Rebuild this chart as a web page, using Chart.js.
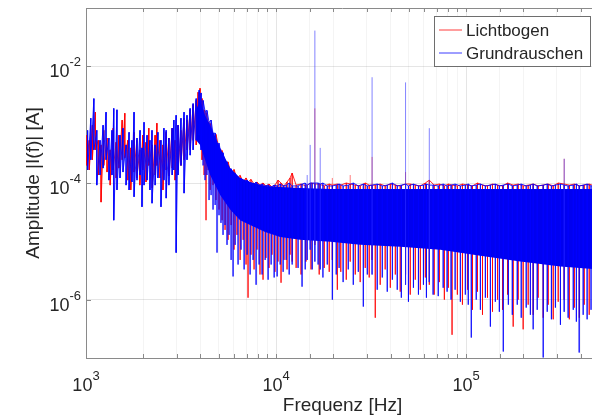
<!DOCTYPE html>
<html>
<head>
<meta charset="utf-8">
<script src="https://cdn.jsdelivr.net/npm/chart.js@4/dist/chart.umd.min.js"></script>
<style>
  html, body { margin: 0; padding: 0; overflow: hidden; background: #fff; }
</style>
</head>
<body>
<canvas id="chart" width="600" height="419"></canvas>
<script>
const FONT = "'Liberation Sans', Arial, sans-serif";
const TEXT = '#262626';
const AXIS = '#8a8a8a';

// Lichtbogen: at each frequency the trace swings from a top value to a bottom value
const lichtFreq = [
  1000, 1040, 1080, 1120, 1160, 1200, 1240, 1290, 1340, 1390,
  1440, 1490, 1550, 1600, 1660, 1720, 1790, 1850, 1920, 1990,
  2070, 2140, 2230, 2310, 2360, 2450, 2540, 2640, 2730, 2840,
  2940, 3050, 3160, 3280, 3400, 3530, 3660, 3800, 3890, 3980,
  4080, 4180, 4280, 4390, 4500, 4660, 4830, 5010, 5200, 5390,
  5590, 5800, 6010, 6230, 6470, 6710, 6950, 7120, 7380, 7660,
  7940, 8230, 8540, 8850, 9180, 9520, 9870, 10240, 10620, 11010,
  11420, 11850, 12150,
  12750, 13530, 14370, 15270, 16000, 16860, 17920, 19040, 19770, 21000,
  21900, 23400, 24550, 26100, 27700, 29450, 30900, 32000, 33250, 35300,
  37500, 39900, 42400, 45000, 48000, 50800, 54000, 57400, 61000, 64000,
  67900, 72300, 76800, 80600, 84300, 89900, 95600, 101700, 108000, 114700,
  121900, 129500, 137600, 146300, 155400, 165100, 176800, 187800, 199500, 212000,
  225200, 239300, 254300, 270200, 287100, 305000, 328000, 349000, 371000, 394000,
  418000, 444000, 472000, 500000
];
const lichtTop = [
  6.6e-4, 5.4e-4, 9.8e-4, 1.64e-3, 5.4e-4, 4.5e-4, 8.0e-4, 5.9e-4, 3.7e-4, 8.7e-4,
  5.0e-4, 6.6e-4, 1.2e-3, 1.57e-3, 5.4e-4, 4.0e-4, 7.4e-4, 5.4e-4, 3.7e-4, 6.6e-4,
  5.0e-4, 8.7e-4, 4.5e-4, 6.6e-4, 1.06e-3, 5.4e-4, 4.5e-4, 7.4e-4, 5.9e-4, 8.7e-4,
  5.4e-4, 9.8e-4, 8.0e-4, 1.29e-3, 1.2e-3, 1.8e-3, 2.2e-3, 2.6e-3, 3.6e-3, 4.2e-3,
  2.8e-3, 1.8e-3, 1.6e-3, 1.1e-3, 1.05e-3, 6.5e-4, 6.8e-4, 3.9e-4, 3.6e-4, 2.2e-4,
  2.3e-4, 1.45e-4, 1.7e-4, 1.2e-4, 1.35e-4, 1.05e-4, 1.22e-4, 1.04e-4, 1.15e-4, 9.6e-5,
  1.04e-4, 9.2e-5, 1.0e-4, 8.9e-5, 9.6e-5, 8.5e-5, 9.2e-5, 1.12e-4, 1.0e-4, 8.9e-5,
  1.04e-4, 1.22e-4, 1.48e-4,
  9.2e-5, 9.6e-5, 8.9e-5, 1.0e-4, 9.6e-5, 9.6e-5, 8.9e-5, 9.6e-5, 9.2e-5, 9.6e-5,
  9.2e-5, 1.0e-4, 9.6e-5, 9.2e-5, 8.9e-5, 1.0e-4, 9.2e-5, 9.2e-5, 9.2e-5, 9.6e-5,
  8.9e-5, 9.6e-5, 9.2e-5, 8.9e-5, 9.6e-5, 9.6e-5, 9.2e-5, 8.9e-5, 1.0e-4, 1.12e-4,
  9.2e-5, 9.6e-5, 8.9e-5, 9.6e-5, 9.2e-5, 8.9e-5, 9.6e-5, 9.2e-5, 8.9e-5, 1.0e-4,
  9.2e-5, 8.9e-5, 9.6e-5, 9.2e-5, 8.9e-5, 1.0e-4, 9.2e-5, 9.6e-5, 8.9e-5, 9.2e-5,
  9.6e-5, 8.9e-5, 9.2e-5, 9.6e-5, 8.9e-5, 1.0e-4, 9.6e-5, 9.2e-5, 9.6e-5, 8.9e-5,
  9.2e-5, 9.6e-5, 8.9e-5, 9.2e-5
];
const lichtBottom = [
  2.0e-4, 1.67e-4, 2.5e-4, 3.7e-4, 1.37e-4, 4.7e-5, 2.0e-4, 1.54e-4, 9.2e-5, 1.67e-4,
  1.22e-4, 1.8e-4, 2.5e-4, 2.7e-4, 1.12e-4, 7.6e-5, 1.54e-4, 1.22e-4, 9.2e-5, 1.67e-4,
  1.04e-4, 2.0e-4, 8.2e-5, 1.37e-4, 2.0e-4, 1.22e-4, 7.6e-5, 1.67e-4, 1.32e-4, 1.8e-4,
  1.12e-4, 1.67e-4, 2.0e-4, 2.5e-4, 3.7e-4, 3.7e-4, 5.4e-4, 4.5e-4, 8.0e-4, 5.4e-4,
  2.5e-4, 1.37e-4, 2.3e-5, 1.67e-4, 7.6e-5, 9.2e-5, 5.1e-5, 3.5e-5, 2.3e-5, 1.57e-5,
  1.06e-5, 1.9e-5, 7.2e-6, 1.29e-5, 4.8e-6, 1.06e-5, 4.0e-6, 1.08e-6, 5.9e-6, 3.3e-6,
  7.2e-6, 2.7e-6, 2.2e-6, 5.2e-6, 3.5e-6, 5.9e-6, 3.0e-6, 4.5e-6, 1.95e-6, 4.8e-6,
  3.3e-6, 5.9e-6, 4.5e-6,
  3.5e-6, 2.7e-6, 4.5e-6, 3.3e-6, 8.7e-6, 2.7e-6, 3.5e-6, 3.0e-6, 4.8e-6, 1.48e-6,
  3.0e-6, 2.2e-6, 4.5e-6, 2.7e-6, 2.0e-6, 3.5e-6, 2.4e-6, 4.8e-6, 4.9e-7, 1.8e-6,
  3.3e-6, 1.6e-6, 2.7e-6, 1.37e-6, 2.7e-6, 1.22e-6, 2.2e-6, 1.48e-6, 2.4e-6, 1.8e-6,
  1.22e-6, 2.0e-6, 1.0e-6, 1.6e-6, 2.5e-7, 1.22e-6, 8.2e-7, 1.48e-6, 6.7e-7, 1.37e-6,
  5.5e-7, 1.08e-6, 6.2e-7, 1.0e-6, 6.7e-7, 1.22e-6, 3.45e-7, 1.0e-6, 3.1e-7, 8.2e-7,
  5.5e-7, 1.08e-6, 4.9e-7, 8.2e-7, 4.6e-7, 9.2e-7, 1.0e-6, 4.6e-7, 7.3e-7, 4.9e-7,
  8.2e-7, 5.5e-7, 8.2e-7, 6.2e-7
];
// Lichtbogen: single lines that stand out of the band
const lichtSpikeFreq = [16000, 19770, 24550, 32000, 48000, 328000];
const lichtSpikePeak = [1.9e-3, 1.22e-4, 1.37e-4, 2.8e-4, 1.54e-4, 2.6e-4];
const lichtSpikeFloor = [8.7e-6, 4.8e-6, 4.5e-6, 4.8e-6, 2.7e-6, 1.0e-6];

// Grundrauschen
const rauschFreq = [
  1020, 1060, 1100, 1140, 1185, 1230, 1275, 1320, 1370, 1400,
  1455, 1510, 1565, 1625, 1685, 1745, 1790, 1855, 1925, 1970,
  2020, 2095, 2170, 2225, 2310, 2390, 2480, 2570, 2640, 2730,
  2840, 2900, 2980, 3050, 3160, 3280, 3400, 3530, 3660, 3800,
  3940, 4030,
  4130, 4230, 4330, 4440, 4550, 4660, 4780, 4890, 5010, 5130,
  5260, 5390, 5520, 5660, 5800, 5940, 6090, 6310, 6540, 6790,
  7040, 7300, 7570, 7850, 8140, 8440, 8760, 9080, 9420, 9770,
  10130, 10510, 10890, 11300, 11720, 12150,
  13050, 13700, 14230, 14580, 15120, 15490, 16000, 16640, 17070, 17640,
  18590, 19770, 20720, 21460, 22530, 23970, 25480, 27080, 28770, 30200,
  32000, 34050, 36200, 38450, 40900, 43400, 45600, 48000, 49700, 52800,
  56100, 59600, 61800, 64000, 67000, 71300, 75700, 79400, 83300, 87500,
  93200, 99000, 102600, 106400, 113000, 118800, 126200, 134100, 142400, 149500,
  156800, 166700, 174900, 185700, 194900, 207000, 217700, 225200, 236500, 254300,
  267000, 280900, 294800, 313300, 328000, 344000, 366000, 380000, 393300, 412700,
  433000, 454000, 478800, 500000
];
const rauschTop = [
  8.0e-4, 1.29e-3, 2.8e-3, 8.0e-4, 5.4e-4, 9.8e-4, 1.64e-3, 5.9e-4, 8.0e-4, 1.9e-3,
  1.8e-3, 6.6e-4, 8.7e-4, 4.5e-4, 7.4e-4, 5.4e-4, 1.64e-3, 5.9e-4, 8.0e-4, 4.0e-4,
  1.1e-3, 6.6e-4, 5.4e-4, 8.0e-4, 4.5e-4, 7.4e-4, 5.4e-4, 8.7e-4, 8.0e-4, 5.9e-4,
  8.7e-4, 1.2e-3, 1.45e-3, 9.8e-4, 1.29e-3, 1.64e-3, 1.45e-3, 1.9e-3, 2.3e-3, 2.8e-3,
  3.9e-3, 3.5e-3,
  2.6e-3, 1.7e-3, 1.75e-3, 1.1e-3, 1.2e-3, 7.0e-4, 7.2e-4, 4.4e-4, 4.8e-4, 3.2e-4,
  3.3e-4, 2.2e-4, 2.3e-4, 1.6e-4, 1.75e-4, 1.35e-4, 1.45e-4, 1.15e-4, 1.2e-4, 1.0e-4,
  1.12e-4, 1.0e-4, 9.2e-5, 1.04e-4, 8.9e-5, 9.6e-5, 8.9e-5, 9.2e-5, 8.5e-5, 9.2e-5,
  8.9e-5, 9.6e-5, 8.9e-5, 9.2e-5, 1.0e-4, 8.9e-5,
  8.9e-5, 9.6e-5, 1.0e-4, 9.2e-5, 1.0e-4, 1.0e-4, 1.0e-4, 1.0e-4, 9.6e-5, 1.0e-4,
  8.9e-5, 8.9e-5, 9.2e-5, 9.6e-5, 8.9e-5, 9.2e-5, 1.0e-4, 8.9e-5, 9.6e-5, 8.9e-5,
  9.2e-5, 9.6e-5, 8.9e-5, 9.2e-5, 1.0e-4, 8.9e-5, 9.2e-5, 9.6e-5, 8.9e-5, 9.6e-5,
  8.9e-5, 9.2e-5, 9.6e-5, 9.2e-5, 9.2e-5, 8.9e-5, 9.6e-5, 8.9e-5, 9.2e-5, 9.6e-5,
  8.9e-5, 9.2e-5, 9.6e-5, 8.9e-5, 9.2e-5, 9.6e-5, 8.9e-5, 9.2e-5, 9.6e-5, 8.9e-5,
  9.2e-5, 9.6e-5, 8.9e-5, 9.2e-5, 9.6e-5, 8.9e-5, 9.2e-5, 9.6e-5, 8.9e-5, 9.2e-5,
  9.6e-5, 8.9e-5, 9.2e-5, 9.6e-5, 9.2e-5, 8.9e-5, 9.2e-5, 9.6e-5, 8.9e-5, 9.2e-5,
  9.6e-5, 8.9e-5, 9.2e-5, 9.6e-5
];
const rauschBottom = [
  1.67e-4, 2.5e-4, 3.7e-4, 9.2e-5, 1.37e-4, 1.8e-4, 2.5e-4, 1.12e-4, 1.37e-4, 2.3e-5,
  7.6e-5, 1.22e-4, 1.54e-4, 9.2e-5, 7.6e-5, 1.04e-4, 5.8e-5, 1.12e-4, 1.37e-4, 3.9e-5,
  9.2e-5, 1.12e-4, 7.6e-5, 4.5e-5, 9.2e-5, 1.22e-4, 3.9e-5, 1.12e-4, 5.5e-5, 9.2e-5,
  1.37e-4, 1.67e-4, 6.4e-6, 1.37e-4, 2.0e-4, 6.7e-5, 2.5e-4, 3.0e-4, 3.7e-4, 5.4e-4,
  6.6e-4, 3.7e-4,
  2.0e-4, 1.12e-4, 1.37e-4, 5.1e-5, 6.2e-5, 3.5e-5, 4.2e-5, 6.4e-6, 2.8e-5, 2.07e-5,
  1.29e-5, 1.9e-5, 8.7e-6, 1.29e-5, 4.8e-6, 2.5e-6, 8.7e-6, 4.0e-6, 7.2e-6, 3.3e-6,
  5.9e-6, 2.7e-6, 4.8e-6, 1.8e-6, 4.0e-6, 2.7e-6, 4.8e-6, 2.2e-6, 4.0e-6, 2.4e-6,
  2.5e-6, 4.0e-6, 3.0e-6, 4.8e-6, 2.7e-6, 4.0e-6,
  3.5e-6, 1.67e-6, 3.3e-6, 4.8e-6, 7.2e-6, 3.3e-6, 4.5e-6, 4.0e-6, 3.3e-6, 2.4e-6,
  4.0e-6, 1.0e-6, 2.7e-6, 3.5e-6, 2.0e-6, 3.3e-6, 1.8e-6, 3.0e-6, 7.6e-7, 2.7e-6,
  2.7e-6, 1.48e-6, 2.4e-6, 1.37e-6, 2.2e-6, 1.48e-6, 1.08e-6, 1.8e-6, 9.2e-7, 1.6e-6,
  1.22e-6, 1.8e-6, 1.08e-6, 2.0e-6, 1.22e-6, 1.15e-6, 1.6e-6, 1.37e-6, 1.0e-6, 1.48e-6,
  9.2e-7, 1.22e-6, 8.2e-7, 2.24e-7, 1.0e-6, 6.7e-7, 1.08e-6, 3.45e-7, 9.2e-7, 6.2e-7,
  1.29e-7, 8.2e-7, 5.5e-7, 8.2e-7, 4.9e-7, 7.3e-7, 5.5e-7, 3.1e-7, 6.7e-7, 1.02e-7,
  6.2e-7, 4.6e-7, 7.3e-7, 3.7e-7, 6.2e-7, 4.9e-7, 6.7e-7, 4.2e-7, 1.24e-7, 5.5e-7,
  4.6e-7, 6.7e-7, 4.9e-7, 6.2e-7
];
// Grundrauschen: the harmonic lines at 16, 32, 48, 64 kHz and their neighbours
const rauschSpikeFreq = [14580, 15120, 16000, 17070, 32000, 48000, 64000, 328000];
const rauschSpikePeak = [1.37e-4, 4.5e-4, 4.1e-2, 4.0e-4, 6.5e-3, 5.3e-3, 8.7e-4, 2.6e-4];
const rauschSpikeFloor = [4.8e-6, 7.2e-6, 4.5e-6, 3.3e-6, 2.7e-6, 1.8e-6, 2.0e-6, 6.2e-7];

// solid part of the Grundrauschen band (upper and lower edge)
const bandFreq = [3800, 3980, 4230, 4500, 5080, 5730, 6470, 7300, 8760, 10500,
  13400, 19300, 27700, 45000, 73100, 118800, 192900, 313300, 500000];
const bandTop = [1.8e-3, 2.6e-3, 1.45e-3, 9.8e-4, 4.0e-4, 1.8e-4, 1.22e-4, 1.04e-4, 8.9e-5, 8.5e-5,
  8.2e-5, 7.9e-5, 7.9e-5, 7.9e-5, 7.9e-5, 7.9e-5, 7.9e-5, 7.9e-5, 7.9e-5];
const bandBottom = [5.4e-4, 4.5e-4, 2.5e-4, 1.37e-4, 6.2e-5, 3.5e-5, 2.3e-5, 1.9e-5, 1.45e-5, 1.19e-5,
  1.06e-5, 9.8e-6, 8.7e-6, 8.1e-6, 7.2e-6, 5.65e-6, 4.5e-6, 3.7e-6, 3.3e-6];

const xTickExp = [3, 4, 5];
const yTickExp = [-2, -4, -6];

// below combFrom the bins are sparse and the trace is a plain zigzag,
// above it each bin is a vertical stroke that returns to the top of the noise band
const combFrom = 4100;
const trace = (freq, top, bottom) => freq.flatMap((f, i) => f < combFrom
  ? [{x: f, y: top[i]}, {x: f, y: bottom[i]}]
  : [{x: f, y: top[i]}, {x: f, y: bottom[i]}, {x: f, y: top[i]}]);
const spikes = (freq, floor, peak) =>
  freq.flatMap((f, i) => [{x: f, y: floor[i]}, {x: f, y: peak[i]}, {x: f, y: null}]);
const edge = (freq, vals) => freq.map((f, i) => ({x: f, y: vals[i]}));

const isDecade = v => Math.abs(Math.log10(v) - Math.round(Math.log10(v))) < 1e-6;

const matlabFrame = {
  id: 'matlabFrame',
  afterDraw(chart) {
    const {ctx, chartArea: a, scales: {x, y}} = chart;
    ctx.save();
    ctx.strokeStyle = AXIS;
    ctx.lineWidth = 1;
    ctx.beginPath();
    ctx.moveTo(a.left, a.top + 0.5);
    ctx.lineTo(a.right, a.top + 0.5);
    x.ticks.forEach(t => {
      const px = Math.round(x.getPixelForValue(t.value)) + 0.5;
      ctx.moveTo(px, a.bottom);
      ctx.lineTo(px, a.bottom - 4);
      ctx.moveTo(px, a.top);
      ctx.lineTo(px, a.top + 4);
    });
    yTickExp.forEach(e => {
      const py = Math.round(y.getPixelForValue(Math.pow(10, e))) + 0.5;
      ctx.moveTo(a.left, py);
      ctx.lineTo(a.left + 5, py);
    });
    ctx.stroke();

    // tick labels as 10 with a raised exponent
    const big = '18px ' + FONT, small = '13px ' + FONT;
    ctx.fillStyle = TEXT;
    ctx.textBaseline = 'alphabetic';
    ctx.textAlign = 'left';
    const powerWidth = exp => {
      ctx.font = big;
      const w1 = ctx.measureText('10').width;
      ctx.font = small;
      return w1 + ctx.measureText(String(exp)).width;
    };
    const power = (exp, startX, base) => {
      ctx.font = big;
      const w1 = ctx.measureText('10').width;
      ctx.fillText('10', startX, base);
      ctx.font = small;
      ctx.fillText(String(exp), startX + w1, base - 11);
    };
    xTickExp.forEach(e => {
      const px = x.getPixelForValue(Math.pow(10, e));
      power(e, px - powerWidth(e) / 2, a.bottom + 33);
    });
    yTickExp.forEach(e => {
      const py = y.getPixelForValue(Math.pow(10, e));
      power(e, a.left - 5 - powerWidth(e), py + 11);
    });

    // legend box
    const items = chart.data.datasets.filter(d => d.legendRank).sort((p, q) => p.legendRank - q.legendRank);
    ctx.fillStyle = '#fff';
    ctx.fillRect(434, 16, 156, 50);
    ctx.strokeStyle = '#6e6e6e';
    ctx.strokeRect(434.5, 16.5, 156, 50);
    ctx.font = '17px ' + FONT;
    ctx.textBaseline = 'middle';
    items.forEach((d, i) => {
      const ly = 30 + i * 23;
      ctx.strokeStyle = d.legendColor;
      ctx.beginPath();
      ctx.moveTo(439, ly);
      ctx.lineTo(462, ly);
      ctx.stroke();
      ctx.fillStyle = TEXT;
      ctx.fillText(d.label, 466, ly + 1);
    });
    ctx.restore();
  }
};

const BLUE = 'rgba(0,0,255,0.85)';
const RED = 'rgba(255,0,0,0.85)';
const lineStyle = {borderWidth: 1, pointRadius: 0, fill: false, spanGaps: false};

new Chart(document.getElementById('chart'), {
  type: 'line',
  data: {
    datasets: [
      {...lineStyle, label: 'Grundrauschen spikes', borderColor: 'rgba(50,50,255,0.6)',
        data: spikes(rauschSpikeFreq, rauschSpikeFloor, rauschSpikePeak)},
      {...lineStyle, label: 'Grundrauschen', legendRank: 2, legendColor: '#3c3cff', borderColor: BLUE,
        data: trace(rauschFreq, rauschTop, rauschBottom)},
      {...lineStyle, label: 'band top', borderColor: 'rgba(0,0,0,0)', backgroundColor: '#0000f0', fill: '+1',
        data: edge(bandFreq, bandTop)},
      {...lineStyle, label: 'band bottom', borderColor: 'rgba(0,0,0,0)',
        data: edge(bandFreq, bandBottom)},
      {...lineStyle, label: 'Lichtbogen spikes', borderColor: 'rgba(255,40,40,0.6)',
        data: spikes(lichtSpikeFreq, lichtSpikeFloor, lichtSpikePeak)},
      {...lineStyle, label: 'Lichtbogen', legendRank: 1, legendColor: '#ff3c3c', borderColor: RED,
        data: trace(lichtFreq, lichtTop, lichtBottom)}
    ]
  },
  options: {
    responsive: false,
    animation: false,
    layout: {padding: {top: 8, right: 1, left: 0, bottom: 0}},
    elements: {line: {tension: 0}},
    plugins: {legend: {display: false}, tooltip: {enabled: false}},
    scales: {
      x: {
        type: 'logarithmic',
        min: 1000,
        max: 500000,
        ticks: {display: false},
        grid: {
          drawTicks: false,
          color: c => {
            if (!c.tick) return 'rgba(0,0,0,0)';
            return isDecade(c.tick.value) ? 'rgba(0,0,0,0.1)' : 'rgba(0,0,0,0.045)';
          }
        },
        border: {color: AXIS},
        title: {
          display: true,
          text: 'Frequenz [Hz]',
          color: TEXT,
          font: {family: FONT, size: 19},
          padding: {top: 0, bottom: 2}
        },
        afterFit: s => { s.height = 61; }
      },
      y: {
        type: 'logarithmic',
        min: 1e-7,
        max: 1e-1,
        ticks: {display: false},
        grid: {
          drawTicks: false,
          color: c => {
            if (!c.tick) return 'rgba(0,0,0,0)';
            const v = c.tick.value;
            return isDecade(v) && yTickExp.includes(Math.round(Math.log10(v))) ? 'rgba(0,0,0,0.1)' : 'rgba(0,0,0,0)';
          }
        },
        border: {color: AXIS},
        title: {
          display: true,
          text: 'Amplitude |I(f)| [A]',
          color: TEXT,
          font: {family: FONT, size: 19},
          padding: {top: 22, bottom: 0}
        },
        afterFit: s => { s.width = 86; }
      }
    }
  },
  plugins: [matlabFrame]
});
</script>
</body>
</html>
